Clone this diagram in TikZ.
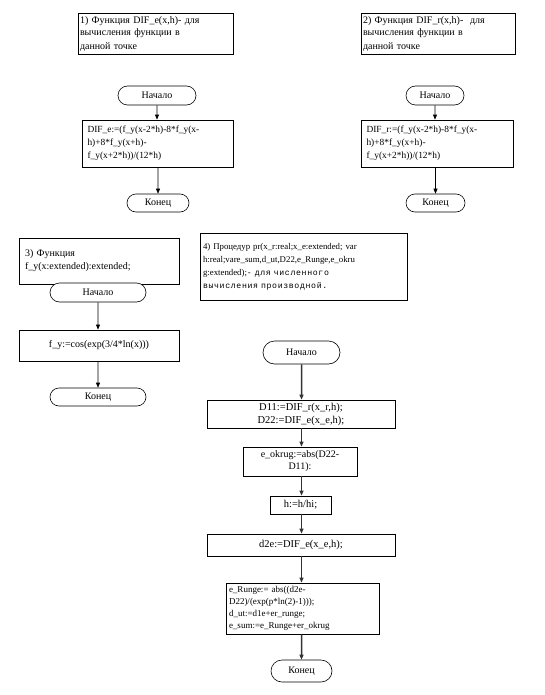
\documentclass[tikz,border=0pt]{standalone}
\usepackage{fontspec}
\setmainfont{Liberation Serif}
\newfontfamily\monof[LetterSpace=8]{Liberation Mono}
\usetikzlibrary{arrows.meta,shapes.misc}
\begin{document}
\begin{tikzpicture}[x=1pt,y=-1pt,
  every node/.style={font=\fontsize{10}{13}\selectfont},
  box/.style={draw,line width=0.8pt,rectangle,inner sep=1.5pt,align=left},
  term/.style={draw,line width=0.6pt,rounded rectangle,inner sep=1pt},
  arr/.style={-{Triangle[length=5pt,width=4pt]},line width=0.6pt},
  garr/.style={-{Triangle[length=5pt,width=4pt]},line width=1.5pt,draw=gray,color=black!80}
]
\useasboundingbox (0,0) rectangle (544,695);
% box 1
\node[box,minimum width=155pt,minimum height=41pt,text width=151pt] (c1) at (155.5,33.5)
  {1) Функция DIF\_e(x,h)- для\\вычисления функции в\\данной точке};
\node[box,minimum width=154pt,minimum height=41pt,text width=150pt] (c2) at (438,33.5)
  {2) Функция DIF\_r(x,h)-\ \ для\\вычисления функции в\\данной точке};
% flow 1
\node[term,minimum width=80pt,minimum height=19pt] (s1) at (157,95.5) {Начало};
\node[box,minimum width=151pt,minimum height=47pt,text width=140pt,inner xsep=5pt,
  font=\fontsize{9.4}{13}\selectfont] (p1) at (157.5,143.5)
  {DIF\_e:=(f\_y(x-2*h)-8*f\_y(x-\\h)+8*f\_y(x+h)-\\f\_y(x+2*h))/(12*h)};
\node[term,minimum width=64pt,minimum height=18pt] (e1) at (158,203) {Конец};
\draw[arr] (s1) -- (s1 |- p1.north);
\draw[arr] (p1.south -| e1) -- (e1);
% flow 2
\node[term,minimum width=60pt,minimum height=19pt] (s2) at (435,95.5) {Начало};
\node[box,minimum width=152pt,minimum height=47pt,text width=141pt,inner xsep=5pt,
  font=\fontsize{9.4}{13}\selectfont] (p2) at (437,143.5)
  {DIF\_r:=(f\_y(x-2*h)-8*f\_y(x-\\h)+8*f\_y(x+h)-\\f\_y(x+2*h))/(12*h)};
\node[term,minimum width=61pt,minimum height=18pt] (e2) at (435.5,203) {Конец};
\draw[arr] (s2) -- (s2 |- p2.north);
\draw[arr] (p2.south -| e2) -- (e2);
% flow 3
\node[box,minimum width=160pt,minimum height=46pt,text width=148pt,inner xsep=6pt] (c3) at (99,261)
  {3) Функция\\f\_y(x:extended):extended;};
\node[term,fill=white,minimum width=98pt,minimum height=19pt] (s3) at (98,292.5) {Начало};
\node[box,minimum width=160pt,minimum height=31pt] (p3) at (99,345.5) {f\_y:=cos(exp(3/4*ln(x)))};
\node[term,minimum width=98pt,minimum height=18pt] (e3) at (98,397) {Конец};
\draw[arr] (s3) -- (s3 |- p3.north);
\draw[arr] (p3.south -| e3) -- (e3);
% box 4
\node[box,minimum width=207pt,minimum height=67pt,text width=201pt,inner xsep=3pt,
  font=\fontsize{8.8}{13}\selectfont] (c4) at (303.5,266.5)
  {4) Процедур pr(x\_r:real;x\_e:extended; var\\h:real;vare\_sum,d\_ut,D22,e\_Runge,e\_okru\\g:extended);{\monof\fontsize{8.2}{13}\selectfont - для численного}\\{\monof\fontsize{8.2}{13}\selectfont вычисления производной.}};
% flow 4
\node[term,minimum width=79pt,minimum height=23pt] (s4) at (301.5,352.5) {Начало};
\node[box,minimum width=188pt,minimum height=28pt,align=center,font=\fontsize{10.5}{13}\selectfont] (p41) at (301,414)
  {D11:=DIF\_r(x\_r,h);\\D22:=DIF\_e(x\_e,h);};
\node[box,minimum width=114pt,minimum height=29pt,align=center,font=\fontsize{10}{12}\selectfont] (p42) at (300,461.5)
  {e\_okrug:=abs(D22-\\D11):};
\node[box,minimum width=61pt,minimum height=18pt,align=center,font=\fontsize{10.5}{13}\selectfont] (p43) at (300.5,505) {h:=h/hi;};
\node[box,minimum width=188pt,minimum height=22pt,align=center,font=\fontsize{10.5}{13}\selectfont] (p44) at (301,545) {d2e:=DIF\_e(x\_e,h);};
\node[box,minimum width=153pt,minimum height=51pt,text width=147pt,inner xsep=3pt,
  font=\fontsize{9}{11.8}\selectfont] (p45) at (302.5,608.5)
  {e\_Runge:= abs((d2e-\\D22)/(exp(p*ln(2)-1)));\\d\_ut:=d1e+er\_runge;\\e\_sum:=e\_Runge+er\_okrug};
\node[term,minimum width=63pt,minimum height=22pt] (e4) at (301.5,671) {Конец};
\draw[garr] (s4) -- (s4 |- p41.north);
\draw[garr] (p41.south -| s4) -- (s4 |- p42.north);
\draw[garr] (p42.south -| s4) -- (s4 |- p43.north);
\draw[garr] (p43.south -| s4) -- (s4 |- p44.north);
\draw[garr] (p44.south -| s4) -- (s4 |- p45.north);
\draw[garr] (p45.south -| e4) -- (e4);
\end{tikzpicture}
\end{document}
